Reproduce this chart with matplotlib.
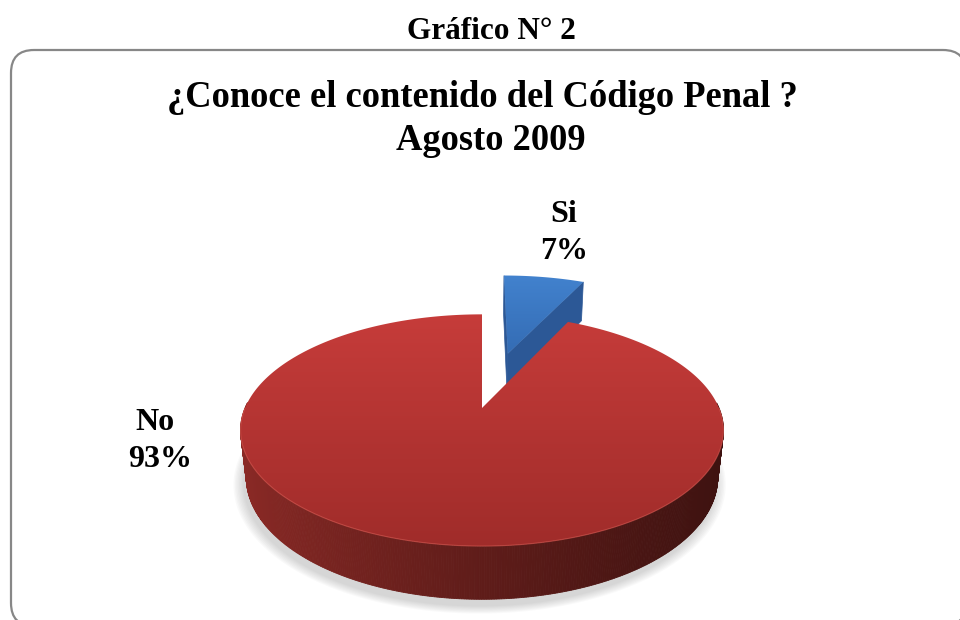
import numpy as np
import matplotlib
matplotlib.use('Agg')
import matplotlib.pyplot as plt
from matplotlib.patches import Polygon, FancyBboxPatch

# ---------------- data ----------------
categories = ['Si', 'No']
values = [7, 93]
pct_labels = ['7%', '93%']
explode = [0.55, 0.0]
header = 'Gráfico N° 2'
title_lines = ['¿Conoce el contenido del Código Penal ?', 'Agosto 2009']

# colours (top-face gradient top/bottom, cut face, side left/right)
top_colors = {'Si': ((66, 130, 206), (52, 108, 180)),
              'No': ((198, 60, 58), (160, 44, 42))}
cut_colors = {'Si': (44, 88, 150), 'No': (110, 32, 30)}
side_colors = {'Si': ((40, 80, 140), (20, 45, 80)),
               'No': ((140, 42, 38), (62, 18, 16))}

# ---------------- layout / camera ----------------
W, H = 960, 620
cx, cy = 482, 408
phi = np.radians(28.1)
D = 4.60
F = 1090.0
hgt = 0.227
cphi, sphi = np.cos(phi), np.sin(phi)
cam = np.array([0.0, -D * cphi, D * sphi])


def proj(X, Y, Z):
    X = np.asarray(X, float); Y = np.asarray(Y, float); Z = np.asarray(Z, float)
    depth = D + Y * cphi - Z * sphi
    up = Y * sphi + Z * cphi
    return np.column_stack([cx + F * X / depth, cy - F * up / depth]), depth


def c01(c):
    return np.array(c, float) / 255.0


fig = plt.figure(figsize=(W / 100, H / 100), dpi=100)
ax = fig.add_axes([0, 0, 1, 1])
ax.axis('off')


def grad_fill(verts, ctop, cbot, z):
    poly = Polygon(verts, closed=True, facecolor='none', edgecolor='none', zorder=z)
    ax.add_patch(poly)
    xmin, xmax = verts[:, 0].min(), verts[:, 0].max()
    ymin, ymax = verts[:, 1].min(), verts[:, 1].max()
    t = np.linspace(0, 1, 256)[:, None]
    img = ((1 - t) * c01(ctop) + t * c01(cbot)).reshape(256, 1, 3)
    im = ax.imshow(img, extent=[xmin, xmax, ymax, ymin], aspect='auto',
                   interpolation='bilinear', zorder=z)
    im.set_clip_path(poly)


# rounded frame
frame = FancyBboxPatch((11, 50), 955, 576, boxstyle='round,pad=0,rounding_size=23',
                       facecolor='white', edgecolor='#878787', linewidth=1.6, zorder=0)
ax.add_patch(frame)

# slices: start at 12 o'clock, clockwise
total = float(sum(values))
spans = [v / total * 360.0 for v in values]
starts = 90.0 - np.concatenate([[0], np.cumsum(spans)[:-1]])

# soft shadow under the front half of the pie
tt = np.radians(np.linspace(172, 368, 200))
for k, s in enumerate(np.linspace(1.04, 1.0, 8)):
    pts, _ = proj(s * np.cos(tt) - 0.01, s * np.sin(tt) - 0.02, -hgt - 0.015)
    ax.add_patch(Polygon(pts, closed=True, facecolor='#808080', edgecolor='none',
                         alpha=0.045, zorder=1))

order = sorted(range(len(values)),
               key=lambda i: -np.sin(np.radians(starts[i] - spans[i] / 2)) * (1 + explode[i]))

z = 2
for i in order:
    name = categories[i]
    th1 = starts[i]
    th2 = starts[i] - spans[i]
    mid = np.radians((th1 + th2) / 2)
    ox, oy = explode[i] * np.cos(mid), explode[i] * np.sin(mid)

    # radial cut faces
    for ang, sgn in ((th1, 1), (th2, -1)):
        a = np.radians(ang)
        n = np.array([-np.sin(a), np.cos(a), 0.0]) * sgn
        P = np.array([ox + 0.5 * np.cos(a), oy + 0.5 * np.sin(a), -hgt / 2])
        if np.dot(n, cam - P) > 0:
            Xs = [ox, ox + np.cos(a), ox + np.cos(a), ox]
            Ys = [oy, oy + np.sin(a), oy + np.sin(a), oy]
            Zs = [0, 0, -hgt, -hgt]
            pts, _ = proj(Xs, Ys, Zs)
            ax.add_patch(Polygon(pts, closed=True, facecolor=c01(cut_colors[name]),
                                 edgecolor=c01(cut_colors[name]), lw=0.5, zorder=z))
    z += 1

    # outer side strips (front-facing part)
    angs = np.linspace(th2, th1, max(int(spans[i] * 2), 4))
    strips = []
    for a0, a1 in zip(angs[:-1], angs[1:]):
        am = np.radians((a0 + a1) / 2)
        if np.sin(am) < 0.05:
            r0, r1 = np.radians(a0), np.radians(a1)
            Xs = [ox + np.cos(r0), ox + np.cos(r1), ox + np.cos(r1), ox + np.cos(r0)]
            Ys = [oy + np.sin(r0), oy + np.sin(r1), oy + np.sin(r1), oy + np.sin(r0)]
            Zs = [0, 0, -hgt, -hgt]
            pts, dep = proj(Xs, Ys, Zs)
            strips.append((dep.mean(), pts))
    if strips:
        allx = np.concatenate([p[:, 0] for _, p in strips])
        xmn, xmx = allx.min(), allx.max()
        cl, cr = c01(side_colors[name][0]), c01(side_colors[name][1])
        for dep, pts in sorted(strips, key=lambda s: -s[0]):
            t = (pts[:, 0].mean() - xmn) / (xmx - xmn)
            t = np.clip(t, 0, 1) ** 0.8
            col = (1 - t) * cl + t * cr
            ax.add_patch(Polygon(pts, closed=True, facecolor=col, edgecolor=col,
                                 lw=0.6, zorder=z))
    z += 1

    # top face
    arc = np.radians(np.linspace(th1, th2, max(int(spans[i] * 2), 8)))
    Xs = np.concatenate([[ox], ox + np.cos(arc)])
    Ys = np.concatenate([[oy], oy + np.sin(arc)])
    pts, _ = proj(Xs, Ys, np.zeros_like(Xs))
    grad_fill(pts, top_colors[name][0], top_colors[name][1], z)
    z += 1
    # light rim highlight on front edge
    fr = arc[np.sin(arc) < 0]
    if len(fr):
        hp, _ = proj(ox + np.cos(fr), oy + np.sin(fr), np.zeros_like(fr))
        ax.plot(hp[:, 0], hp[:, 1], color=(0.85, 0.35, 0.32), lw=0.8, alpha=0.6, zorder=z)
    z += 1

# texts
serif = ['Liberation Serif', 'DejaVu Serif']
ax.text(491, 39, header, ha='center', va='baseline', fontsize=22.5, fontweight='bold',
        family=serif, color='black', zorder=20)
ax.text(482, 107, title_lines[0], ha='center', va='baseline', fontsize=26.3,
        fontweight='bold', family=serif, zorder=20)
ax.text(491, 150, title_lines[1], ha='center', va='baseline', fontsize=26.3,
        fontweight='bold', family=serif, zorder=20)

# label layout: (x of name, baseline of name, x of pct, baseline of pct)
label_pos = {'Si': (564, 222, 564, 259), 'No': (155, 430, 160, 467)}
for name, p in zip(categories, pct_labels):
    x1, y1, x2, y2 = label_pos[name]
    ax.text(x1, y1, name, ha='center', va='baseline', fontsize=23,
            fontweight='bold', family=serif, zorder=20)
    ax.text(x2, y2, p, ha='center', va='baseline', fontsize=23,
            fontweight='bold', family=serif, zorder=20)

ax.set_xlim(0, W)
ax.set_ylim(H, 0)
fig.savefig('out.png', dpi=100)
